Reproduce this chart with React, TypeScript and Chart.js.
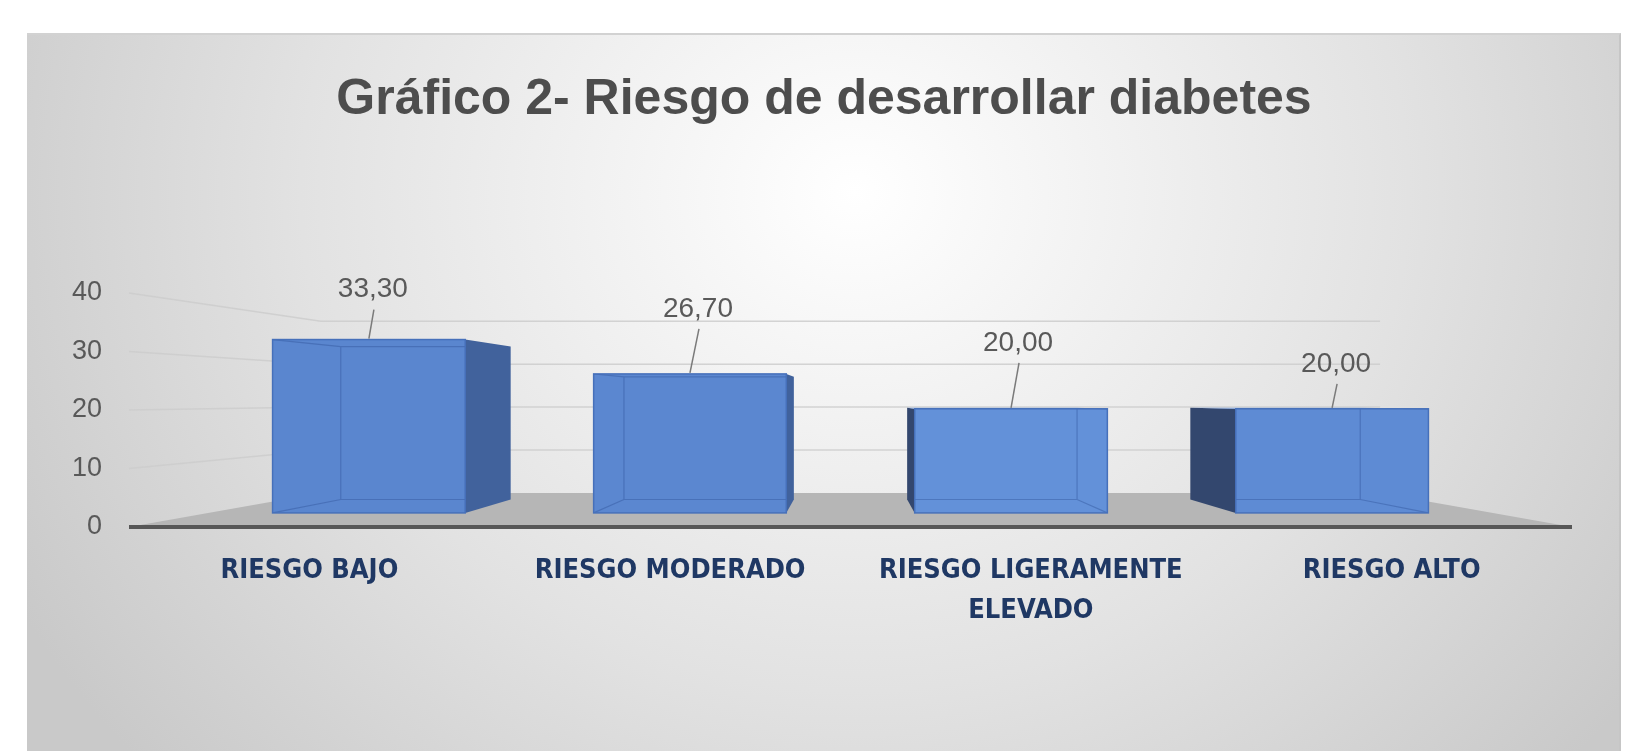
import React, { useEffect, useRef } from 'react';
import { Chart, registerables } from 'chart.js';

Chart.register(...registerables);

// ---- data ----
const chartTitle = 'Gráfico 2- Riesgo de desarrollar diabetes';
const categories: (string | string[])[] = [
  'RIESGO BAJO',
  'RIESGO MODERADO',
  ['RIESGO LIGERAMENTE', 'ELEVADO'],
  'RIESGO ALTO',
];
const values = [33.3, 26.7, 20.0, 20.0];
const yTicks = [0, 10, 20, 30, 40];

// ---- style ----
const labelOffsets = [
  [4, -50],
  [8, -65],
  [7, -66],
  [4, -45],
];
const frontColors = ['#5a86cf', '#5b87d0', '#6391d9', '#5e8bd4'];
const rightSideColor = '#41629c';
const leftSideColor = '#33476e';
const DEPTH = { barFront: 0.89, barBack: 0.785, wall: 0.734 };
const VP = { fx: 0.5, fy: 0.453 };
const FONT = '"Liberation Sans", Arial, sans-serif';
const NARROW = '"Liberation Sans Narrow", "DejaVu Sans Condensed", "Liberation Sans", sans-serif';

const fmt = (v: number) => v.toFixed(2).replace('.', ',');

const perspectivePlugin = {
  id: 'perspective3d',
  beforeDatasetsDraw(chart: any) {
    const { ctx, chartArea: a, scales } = chart;
    const ys = scales.y;
    const vx = a.left + (a.right - a.left) * VP.fx;
    const vy = a.top + (a.bottom - a.top) * VP.fy;
    const P = (px: number, py: number, s: number) => [vx + (px - vx) * s, vy + (py - vy) * s];
    ctx.save();

    // gridlines: left wall + back wall
    ctx.strokeStyle = 'rgba(205,205,205,0.85)';
    ctx.lineWidth = 1.5;
    yTicks.forEach((t) => {
      if (t === 0) return;
      const py = ys.getPixelForValue(t);
      const bl = P(a.left, py, DEPTH.wall);
      const br = P(a.right, py, DEPTH.wall);
      ctx.beginPath();
      ctx.moveTo(a.left, py);
      ctx.lineTo(bl[0], bl[1]);
      ctx.lineTo(br[0], br[1]);
      ctx.stroke();
    });

    // floor
    const y0 = ys.getPixelForValue(0);
    const fl = P(a.left, y0, DEPTH.wall);
    const fr = P(a.right, y0, DEPTH.wall);
    ctx.fillStyle = '#b6b6b6';
    ctx.beginPath();
    ctx.moveTo(a.left, y0);
    ctx.lineTo(a.right, y0);
    ctx.lineTo(fr[0], fr[1]);
    ctx.lineTo(fl[0], fl[1]);
    ctx.closePath();
    ctx.fill();

    // baseline
    ctx.strokeStyle = '#575757';
    ctx.lineWidth = 4;
    ctx.beginPath();
    ctx.moveTo(a.left, y0);
    ctx.lineTo(a.right, y0);
    ctx.stroke();

    const meta = chart.getDatasetMeta(0);
    const poly = (pts: number[][], fill: string) => {
      ctx.fillStyle = fill;
      ctx.beginPath();
      ctx.moveTo(pts[0][0], pts[0][1]);
      for (let k = 1; k < pts.length; k++) ctx.lineTo(pts[k][0], pts[k][1]);
      ctx.closePath();
      ctx.fill();
    };

    meta.data.forEach((el: any, i: number) => {
      const { x, y, base, width } = el.getProps(['x', 'y', 'base', 'width'], true);
      const l = x - width / 2;
      const r = x + width / 2;
      const f = DEPTH.barFront;
      const b = DEPTH.barBack;
      const fTL = P(l, y, f), fTR = P(r, y, f), fBL = P(l, base, f), fBR = P(r, base, f);
      const bTL = P(l, y, b), bTR = P(r, y, b), bBL = P(l, base, b), bBR = P(r, base, b);

      if (bTR[0] > fTR[0]) poly([fTR, bTR, bBR, fBR], rightSideColor);
      if (bTL[0] < fTL[0]) poly([fTL, bTL, bBL, fBL], leftSideColor);
      if (bTL[1] < fTL[1]) poly([fTL, fTR, bTR, bTL], '#7da2e0');

      // front face
      const fc = frontColors[i % frontColors.length];
      ctx.fillStyle = fc;
      ctx.fillRect(fTL[0], fTL[1], fTR[0] - fTL[0], fBL[1] - fTL[1]);

      // hidden edges seen through
      ctx.save();
      ctx.beginPath();
      ctx.rect(fTL[0], fTL[1], fTR[0] - fTL[0], fBL[1] - fTL[1]);
      ctx.clip();
      ctx.strokeStyle = 'rgba(45,80,150,0.4)';
      ctx.lineWidth = 1.2;
      ctx.beginPath();
      ctx.moveTo(bTL[0], bTL[1]);
      ctx.lineTo(bTR[0], bTR[1]);
      ctx.lineTo(bBR[0], bBR[1]);
      ctx.lineTo(bBL[0], bBL[1]);
      ctx.closePath();
      ctx.moveTo(fTL[0], fTL[1]); ctx.lineTo(bTL[0], bTL[1]);
      ctx.moveTo(fTR[0], fTR[1]); ctx.lineTo(bTR[0], bTR[1]);
      ctx.moveTo(fBL[0], fBL[1]); ctx.lineTo(bBL[0], bBL[1]);
      ctx.moveTo(fBR[0], fBR[1]); ctx.lineTo(bBR[0], bBR[1]);
      ctx.stroke();
      ctx.restore();

      ctx.strokeStyle = '#4670ba';
      ctx.lineWidth = 1.5;
      ctx.strokeRect(fTL[0], fTL[1], fTR[0] - fTL[0], fBL[1] - fTL[1]);

      // data label + leader
      const cx = (fTL[0] + fTR[0]) / 2;
      const cy = fTL[1];
      const off = labelOffsets[i] || [0, -50];
      const lx = cx + off[0];
      const ly = cy + off[1];
      ctx.strokeStyle = '#7a7a7a';
      ctx.lineWidth = 1.5;
      ctx.beginPath();
      ctx.moveTo(lx + 1, ly + 20);
      ctx.lineTo(cx, cy - 1);
      ctx.stroke();
      ctx.fillStyle = '#595959';
      ctx.font = `28px ${FONT}`;
      ctx.textAlign = 'center';
      ctx.textBaseline = 'middle';
      ctx.fillText(fmt(values[i]), lx, ly);
    });

    ctx.restore();
    return false;
  },
};

export default function App() {
  const ref = useRef<HTMLCanvasElement | null>(null);

  useEffect(() => {
    if (!ref.current) return;
    const chart = new Chart(ref.current, {
      type: 'bar',
      data: {
        labels: categories as any,
        datasets: [
          {
            data: values,
            backgroundColor: frontColors,
            categoryPercentage: 0.6,
            barPercentage: 1,
          },
        ],
      },
      options: {
        responsive: false,
        animation: false,
        devicePixelRatio: 1,
        layout: { padding: { left: 0, right: 0, top: 0, bottom: 0 } },
        plugins: {
          legend: { display: false },
          tooltip: { enabled: false },
          title: {
            display: true,
            text: chartTitle,
            color: '#4d4d4d',
            font: { family: FONT, size: 50, weight: 'bold', lineHeight: 1.2 },
            padding: { top: 37, bottom: 163 },
          },
        },
        scales: {
          x: {
            grid: { display: false, drawTicks: false },
            border: { display: false },
            ticks: {
              color: '#1f3864',
              font: { family: NARROW, size: 27, weight: 'bold', lineHeight: 1.48 },
              padding: 24,
              maxRotation: 0,
              autoSkip: false,
            },
            afterFit: (s: any) => {
              s.height = 224;
            },
          },
          y: {
            min: 0,
            max: 40,
            grid: { display: false, drawTicks: false },
            border: { display: false },
            ticks: {
              stepSize: 10,
              color: '#595959',
              font: { family: FONT, size: 27 },
              padding: 27,
            },
            afterFit: (s: any) => {
              s.width = 102;
            },
          },
          yRight: {
            position: 'right',
            display: true,
            min: 0,
            max: 40,
            grid: { display: false, drawTicks: false },
            border: { display: false },
            ticks: { display: false },
            afterFit: (s: any) => {
              s.width = 49;
            },
          },
        },
      },
      plugins: [perspectivePlugin],
    });
    return () => chart.destroy();
  }, []);

  return (
    <div
      style={{
        position: 'absolute',
        left: 0,
        top: 0,
        width: 1627,
        height: 751,
        background: '#ffffff',
        overflow: 'hidden',
      }}
    >
      <div
        style={{
          position: 'absolute',
          left: 27,
          top: 33,
          width: 1594,
          height: 718,
          boxSizing: 'border-box',
          borderTop: '2px solid #d2d2d2',
          borderRight: '2px solid #c6c6c6',
          background:
            'radial-gradient(ellipse 60% 120% at 52% 22%, #ffffff 0%, #f4f4f4 22%, #e2e2e2 58%, #c9c9c9 100%)',
        }}
      >
        <canvas
          ref={ref}
          width={1594}
          height={718}
          style={{ position: 'absolute', left: 0, top: -2, width: 1594, height: 718 }}
        />
      </div>
    </div>
  );
}
